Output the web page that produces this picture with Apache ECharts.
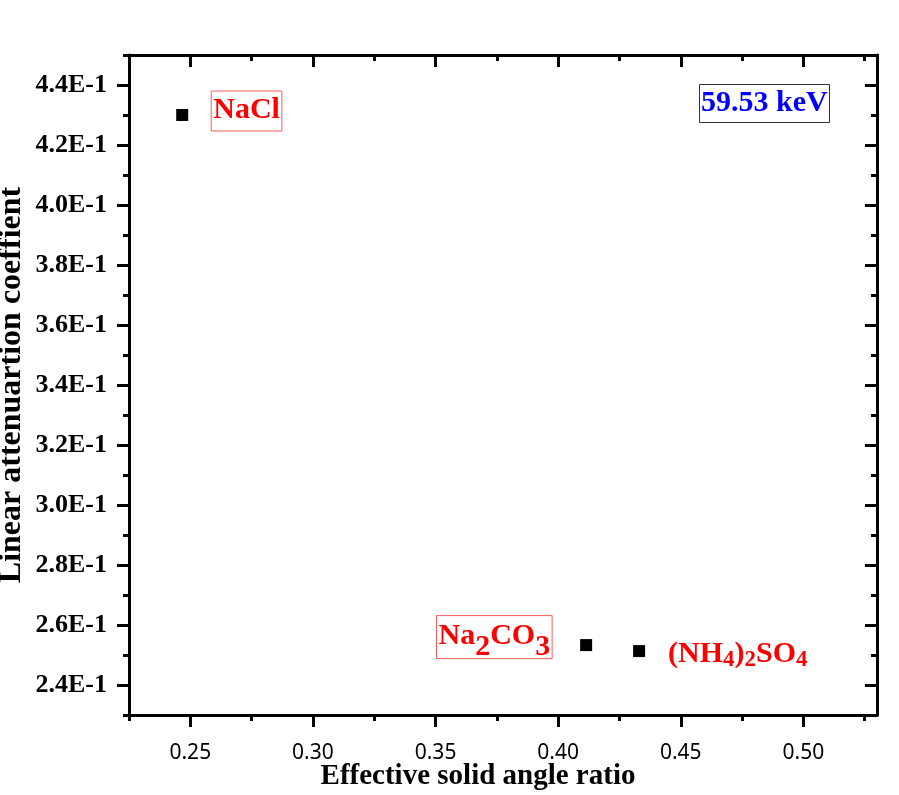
<!DOCTYPE html>
<html>
<head>
<meta charset="utf-8">
<script src="https://cdn.jsdelivr.net/npm/echarts@6/dist/echarts.min.js"></script>
<style>
html,body{margin:0;padding:0;background:#fff}
#chart{width:899px;height:795px}
</style>
</head>
<body>
<div id="chart"></div>
<script>
// measured points
const samples = ['NaCl', 'Na2CO3', '(NH4)2SO4'];
const solidAngle = [0.2467, 0.4114, 0.4330];
const attenuation = [0.4300, 0.2533, 0.2513];

// axis ticks
const xTicks = [0.25, 0.30, 0.35, 0.40, 0.45, 0.50];
const xTickLabels = ['0.25', '0.30', '0.35', '0.40', '0.45', '0.50'];
const xMinorTicks = [0.225, 0.275, 0.325, 0.375, 0.425, 0.475, 0.525];
const yTicks = [0.24, 0.26, 0.28, 0.30, 0.32, 0.34, 0.36, 0.38, 0.40, 0.42, 0.44];
const yTickLabels = ['2.4E-1', '2.6E-1', '2.8E-1', '3.0E-1', '3.2E-1', '3.4E-1', '3.6E-1', '3.8E-1', '4.0E-1', '4.2E-1', '4.4E-1'];
const yMinorTicks = [0.23, 0.25, 0.27, 0.29, 0.31, 0.33, 0.35, 0.37, 0.39, 0.41, 0.43, 0.45];

const serif = '"Liberation Serif", "Times New Roman", serif';
const red = '#ff0000';

function pick(ticks, labels, v) {
    for (let i = 0; i < ticks.length; i++) {
        if (Math.abs(ticks[i] - v) < 1e-6) return labels[i];
    }
    return '';
}

function xAxisOf(pos, ticks, len, main) {
    return {
        type: 'value', position: pos, min: 0.225, max: 0.53,
        axisLine: {show: main, onZero: false, lineStyle: {color: '#000', width: 3}},
        axisTick: {show: true, inside: pos === 'top', customValues: ticks, length: len, lineStyle: {color: '#000', width: 3}},
        axisLabel: {show: false},
        splitLine: {show: false}
    };
}
function yAxisOf(pos, ticks, len, main) {
    return {
        type: 'value', position: pos, min: 0.23, max: 0.45,
        axisLine: {show: main, onZero: false, lineStyle: {color: '#000', width: 3}},
        axisTick: {show: true, inside: pos === 'right', customValues: ticks, length: len, lineStyle: {color: '#000', width: 3}},
        axisLabel: {show: false},
        splitLine: {show: false}
    };
}

let xBottom = xAxisOf('bottom', xTicks, 12, true);
xBottom.axisLabel = {
    show: true, customValues: xTicks, margin: 28,
    fontFamily: '"Noto Sans", sans-serif', fontSize: 21, color: '#000',
    formatter: v => pick(xTicks, xTickLabels, v)
};
xBottom.name = 'Effective solid angle ratio';
xBottom.nameLocation = 'middle';
xBottom.nameGap = 47;
xBottom.nameMoveOverlap = false;
xBottom.nameTextStyle = {fontFamily: serif, fontWeight: 'bold', fontSize: 29, color: '#000', padding: [0, 50, 0, 0]};

let yLeft = yAxisOf('left', yTicks, 12, true);
yLeft.axisLabel = {
    show: true, customValues: yTicks, margin: 22,
    fontFamily: serif, fontWeight: 'bold', fontSize: 26, color: '#000',
    formatter: v => pick(yTicks, yTickLabels, v)
};
yLeft.name = 'Linear attenuartion coeffient';
yLeft.nameLocation = 'middle';
yLeft.nameGap = 101;
yLeft.nameMoveOverlap = false;
yLeft.nameTextStyle = {fontFamily: serif, fontWeight: 'bold', fontSize: 32, color: '#000'};

const subRich = {
    m: {fontFamily: serif, fontWeight: 'bold', fontSize: 30, color: red, lineHeight: 32, verticalAlign: 'top'},
    s: {fontFamily: serif, fontWeight: 'bold', fontSize: 30, color: red, lineHeight: 32, padding: [11, 0, 0, 0], verticalAlign: 'top'},
    t: {fontFamily: serif, fontWeight: 'bold', fontSize: 23, color: red, lineHeight: 32, padding: [9, 0, 0, 0], verticalAlign: 'top'}
};

const labelStyles = [
    {show: true, position: 'right', distance: 23, offset: [0, -4], formatter: '{m|NaCl}',
     rich: subRich, borderColor: '#ff5a5a', borderWidth: 1, padding: [4, 2, 4, 2]},
    {show: true, position: 'left', distance: 28, offset: [0, -8], formatter: '{m|Na}{s|2}{m|CO}{s|3}',
     rich: subRich, borderColor: '#ff5a5a', borderWidth: 1, padding: [6, 2, 5, 2]},
    {show: true, position: 'right', distance: 23, offset: [0, 4], formatter: '{m|(NH}{t|4}{m|)}{t|2}{m|SO}{t|4}',
     rich: subRich}
];

const points = samples.map((n, i) => ({
    name: n,
    value: [solidAngle[i], attenuation[i]],
    label: labelStyles[i]
}));

let chart = echarts.init(document.getElementById('chart'));
chart.setOption({
    animation: false,
    backgroundColor: '#fff',
    title: {
        text: '59.53 keV',
        left: 699, top: 84,
        padding: [4, 2, 4, 2],
        borderColor: '#333', borderWidth: 1,
        textStyle: {fontFamily: serif, fontWeight: 'bold', fontSize: 30, color: '#0000ff', lineHeight: 31}
    },
    grid: {left: 129, right: 22, top: 55, bottom: 80, containLabel: false, outerBoundsMode: 'none'},
    xAxis: [
        xBottom,
        xAxisOf('bottom', xMinorTicks, 6, false),
        xAxisOf('top', xTicks, 12, true),
        xAxisOf('top', xMinorTicks, 6, false)
    ],
    yAxis: [
        yLeft,
        yAxisOf('left', yMinorTicks, 6, false),
        yAxisOf('right', yTicks, 12, true),
        yAxisOf('right', yMinorTicks, 6, false)
    ],
    series: [{
        type: 'scatter',
        xAxisIndex: 0, yAxisIndex: 0,
        symbol: 'rect', symbolSize: 12,
        itemStyle: {color: '#000', opacity: 1},
        data: points
    }]
});
</script>
</body>
</html>
